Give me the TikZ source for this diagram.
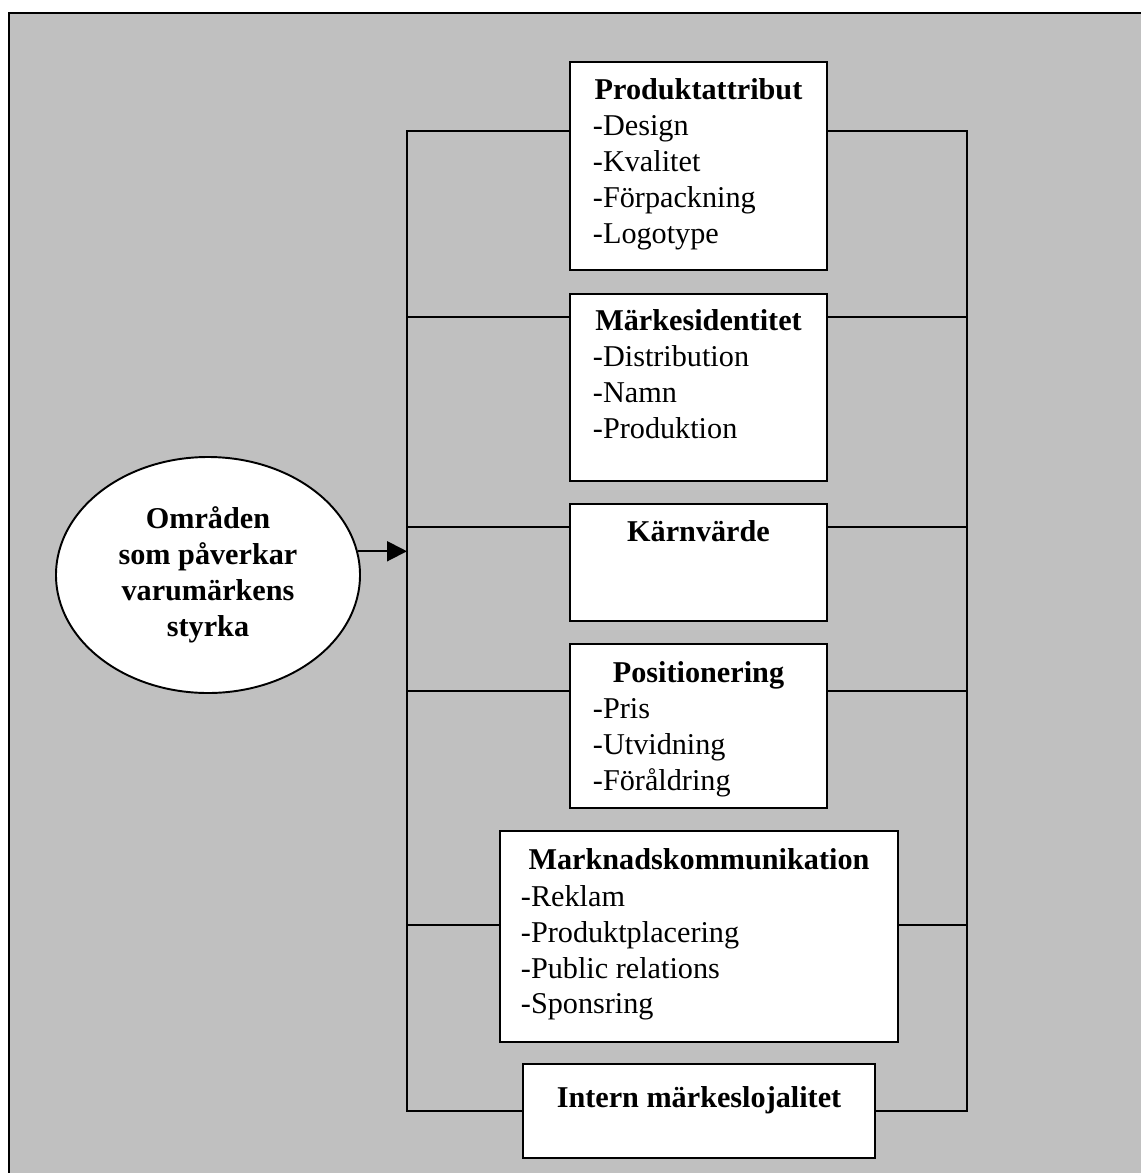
\documentclass[tikz,border=0pt]{standalone}
\usepackage{fontspec}
\setmainfont{Liberation Serif}
\usetikzlibrary{arrows.meta,shapes.geometric}
\definecolor{hintergrund}{RGB}{192,192,192}
\tikzset{
  kasten/.style={draw, fill=white, rectangle},
  kopf/.style={font=\fontsize{17.2}{20.4}\selectfont\bfseries},
  punkt/.style={anchor=base west}
}
\begin{document}
\begin{tikzpicture}[x=0.02cm, y=-0.02cm, line width=1.1pt,
  >={Triangle[length=0.4cm, width=0.4cm]},
  every node/.style={font=\fontsize{17.2}{20.4}\selectfont, inner sep=0pt}]
\def\px{0.02cm}
\useasboundingbox (0,0) rectangle (1141,1173);
\clip (0,0) rectangle (1141,1173);
\fill[white] (0,0) rectangle (1141,1173);
\draw[fill=hintergrund, line width=1.4pt] (9,13) rectangle (1170,1200);
% Anschlusspunkte links und rechts
\coordinate (L1) at (407,131);
\coordinate (L2) at (407,317);
\coordinate (L3) at (407,527);
\coordinate (L4) at (407,691);
\coordinate (L5) at (407,925);
\coordinate (L6) at (407,1111);
\coordinate (R1) at (967,131);
\coordinate (R2) at (967,317);
\coordinate (R3) at (967,527);
\coordinate (R4) at (967,691);
\coordinate (R5) at (967,925);
\coordinate (R6) at (967,1111);
\node[kasten, minimum width=257*\px, minimum height=208*\px] (K1) at (698.5,166) {};
\node[kasten, minimum width=257*\px, minimum height=187*\px] (K2) at (698.5,387.5) {};
\node[kasten, minimum width=257*\px, minimum height=117*\px] (K3) at (698.5,562.5) {};
\node[kasten, minimum width=257*\px, minimum height=164*\px] (K4) at (698.5,726) {};
\node[kasten, minimum width=398*\px, minimum height=211*\px] (K5) at (699,936.5) {};
\node[kasten, minimum width=352*\px, minimum height=94*\px]  (K6) at (699,1111) {};
\draw (L1 -| K1.west) -- (L1) -- (L6) -- (K6.west);
\draw (R1 -| K1.east) -- (R1) -- (R6) -- (K6.east);
\draw (L2) -- (L2 -| K2.west);
\draw (L3) -- (L3 -| K3.west);
\draw (L4) -- (L4 -| K4.west);
\draw (L5) -- (L5 -| K5.west);
\draw (R2) -- (R2 -| K2.east);
\draw (R3) -- (R3 -| K3.east);
\draw (R4) -- (R4 -| K4.east);
\draw (R5) -- (R5 -| K5.east);
\node[kopf, draw, fill=white, ellipse, align=center, minimum width=304*\px, minimum height=236*\px] (E) at (208,575) {Områden\\som påverkar\\varumärkens\\styrka};
\draw[->] (E.9.2) -- (E.9.2 -| L1);
\node[kopf, anchor=base] (T1) at (698.5,99) {Produktattribut};
\node[punkt] (T1a) at (592,135) {-Design};
\node[punkt] (T1b) at (592,171) {-Kvalitet};
\node[punkt] (T1c) at (592,207) {-Förpackning};
\node[punkt] (T1d) at (592,243) {-Logotype};
\node[kopf, anchor=base] (T2) at (698.5,330) {Märkesidentitet};
\node[punkt] (T2a) at (592,366) {-Distribution};
\node[punkt] (T2b) at (592,402) {-Namn};
\node[punkt] (T2c) at (592,438) {-Produktion};
\node[kopf, anchor=base] (T3) at (698.5,541) {Kärnvärde};
\node[kopf, anchor=base] (T4) at (698.5,682) {Positionering};
\node[punkt] (T4a) at (592,718) {-Pris};
\node[punkt] (T4b) at (592,754) {-Utvidning};
\node[punkt] (T4c) at (592,790) {-Föråldring};
\node[kopf, anchor=base] (T5) at (699,869) {Marknadskommunikation};
\node[punkt] (T5a) at (520,906) {-Reklam};
\node[punkt] (T5b) at (520,942) {-Produktplacering};
\node[punkt] (T5c) at (520,978) {-Public relations};
\node[punkt] (T5d) at (520,1013) {-Sponsring};
\node[kopf, anchor=base] (T6) at (699,1107) {Intern märkeslojalitet};
\end{tikzpicture}
\end{document}
